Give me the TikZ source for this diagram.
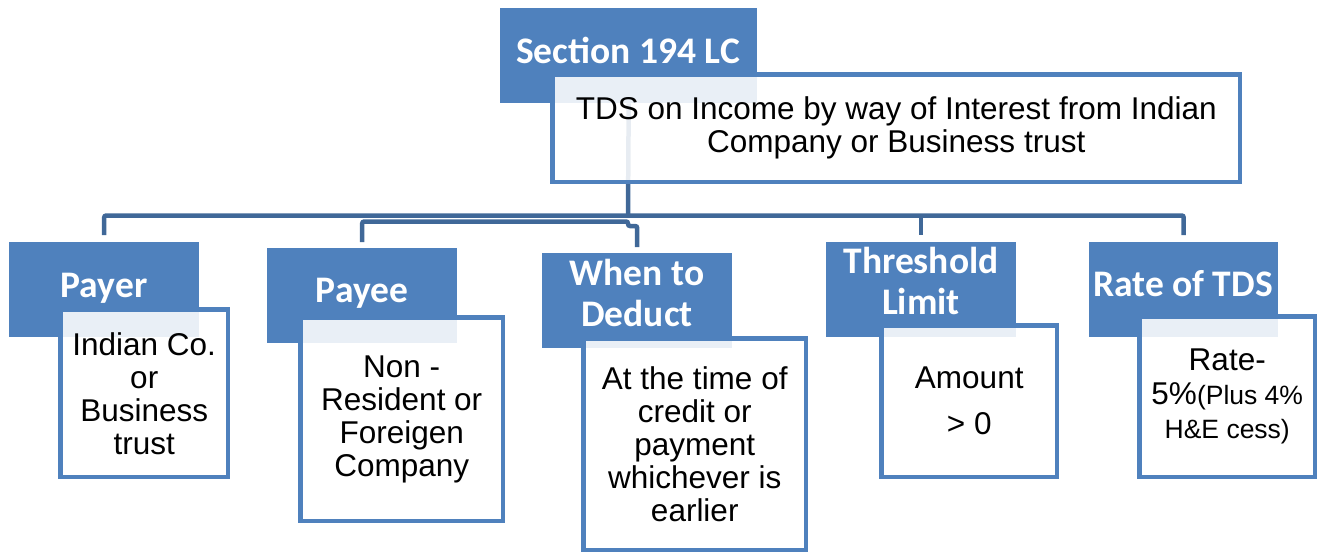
\documentclass[tikz,border=0pt]{standalone}
\usepackage{fontspec}
\setmainfont{Liberation Sans}
\newfontfamily\headfont{Carlito}
\usetikzlibrary{backgrounds}
\definecolor{headblue}{HTML}{4F81BD}
\definecolor{linkblue}{HTML}{406898}
\tikzset{
  head/.style={fill=headblue, draw=none, anchor=north west, inner sep=0pt},
  headtext/.style={text=white, font=\headfont\bfseries\fontsize{37.5pt}{41pt}\selectfont, align=center, inner sep=0pt},
  bodybox/.style={draw=headblue, line width=4.5pt, fill=white, fill opacity=0.88, text opacity=1,
    anchor=north west, inner sep=0pt, align=center, font=\fontsize{31.5pt}{33pt}\selectfont},
  conn/.style={draw=linkblue, line width=4.5pt, rounded corners=2pt},
}
\begin{document}
\begin{tikzpicture}[x=1pt,y=-1pt]
\useasboundingbox (0,0) rectangle (1318,552);

% title block
\node[head, minimum width=257pt, minimum height=95pt] (sec) at (500,8) {};
\node[headtext, anchor=base] (secT) at (628,63) {Section 194 LC};
\node[bodybox, minimum width=687.5pt, minimum height=107.5pt] (topB) at (550.25,72.25)
  {TDS on Income by way of Interest from Indian\\Company or Business trust};

% category headers
\node[head, minimum width=190pt, minimum height=95pt] (payer) at (9,242) {};
\node[headtext, anchor=base] (payerT) at (104,297) {Payer};
\node[head, minimum width=190pt, minimum height=95pt] (payee) at (267,248) {};
\node[headtext, anchor=base] (payeeT) at (362,302) {Payee};
\node[head, minimum width=190pt, minimum height=95pt] (when) at (542,253) {};
\node[headtext] (whenT) at (637,293) {When to\\Deduct};
\node[head, minimum width=190pt, minimum height=95pt] (thr) at (826,242) {};
\node[headtext] (thrT) at (921,281) {Threshold\\Limit};
\node[head, minimum width=189pt, minimum height=95pt] (rate) at (1089,242) {};
\node[headtext, anchor=base] (rateT) at (1183,296) {Rate of TDS};

% detail boxes
\node[bodybox, minimum width=167.5pt, minimum height=167.5pt] (payerB) at (58.25,307.25)
  {Indian Co.\\or\\Business\\trust};
\node[bodybox, minimum width=202.5pt, minimum height=203.5pt] (payeeB) at (298.25,315.25)
  {Non -\\Resident or\\Foreigen\\Company};
\node[bodybox, minimum width=222.5pt, minimum height=211.5pt] (whenB) at (581.25,336.25)
  {At the time of\\credit or\\payment\\whichever is\\earlier};
\node[bodybox, minimum width=175.5pt, minimum height=151.5pt] (thrB) at (879.25,323.25)
  {Amount\\[13pt]> 0};
\node[bodybox, minimum width=175.5pt, minimum height=160.5pt,
  font=\fontsize{31.5pt}{34pt}\selectfont] (rateB) at (1137.25,314.25)
  {Rate-\\5\%{\fontsize{26.5pt}{34pt}\selectfont(Plus 4\%}\\{\fontsize{26.5pt}{34pt}\selectfont H\&E cess)}};

% connectors
\begin{pgfonlayer}{background}
  \coordinate (busA) at (628,215.5);
  \coordinate (busB) at (628,221.5);
  \draw[conn, rounded corners=0pt] (sec.south) -- (busA);
  \draw[conn] ([yshift=7pt]payer.north) |- (rate.north |- busA) -- ([yshift=7pt]rate.north);
  \draw[conn] (thr.north |- busA) -- ([yshift=7pt]thr.north);
  \draw[conn] ([yshift=6pt]payee.north) |- (busB) -- ++(0,4.5) -| ([yshift=6pt]when.north);
\end{pgfonlayer}
\end{tikzpicture}
\end{document}
